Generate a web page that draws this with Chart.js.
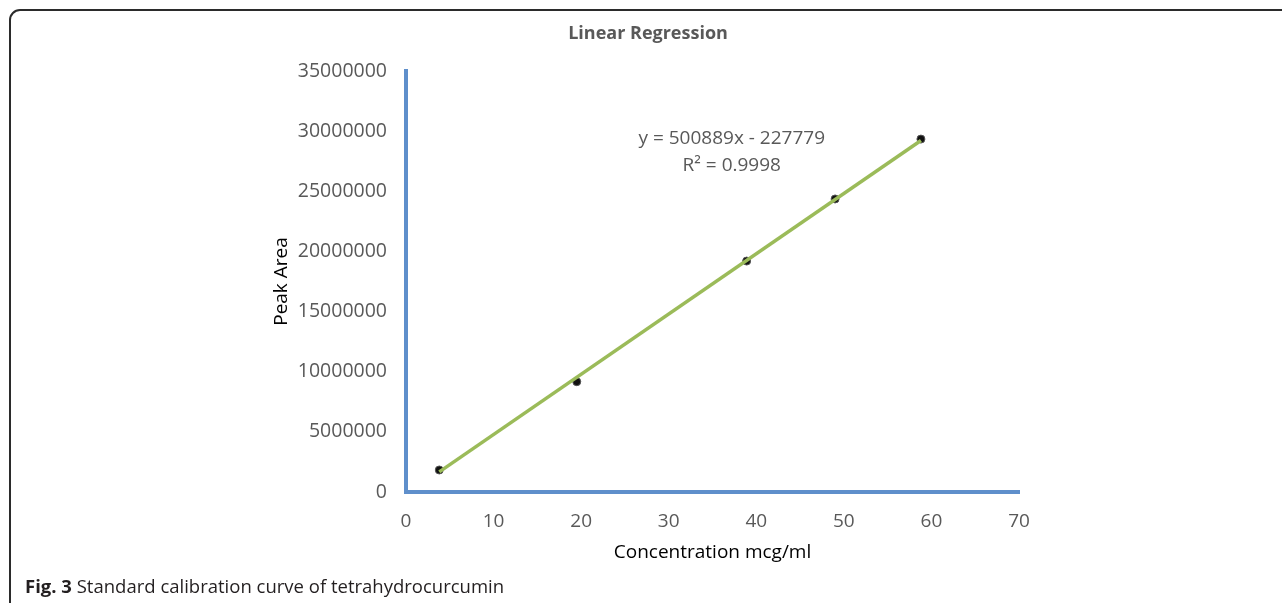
<!DOCTYPE html>
<html>
<head>
<meta charset="utf-8">
<script src="https://cdn.jsdelivr.net/npm/chart.js@4"></script>
<style>
    html, body { margin: 0; padding: 0; background: #fff; overflow: hidden; }
    #wrap { position: relative; width: 1282px; height: 603px; }
    #frame {
        position: absolute; left: 9px; top: 9px; width: 1320px; height: 640px;
        border: 2px solid #2b2b2b; border-radius: 11px; box-sizing: border-box;
    }
    #chart { position: absolute; left: 0; top: 0; }
    #caption {
        position: absolute; left: 25px; top: 573px;
        font-family: "Open Sans", sans-serif; font-size: 18.5px; color: #231f20;
    }
</style>
</head>
<body>
<div id="wrap">
    <div id="frame"></div>
    <canvas id="chart" width="1282" height="603"></canvas>
    <div id="caption"><b>Fig. 3</b> Standard calibration curve of tetrahydrocurcumin</div>
</div>
<script>
        // calibration data
        const concentrations = [3.8, 19.5, 38.9, 49.0, 58.8];
        const peakAreas = [1830000, 9170000, 19200000, 24360000, 29340000];

        // trendline as reported on the chart
        const slope = 500889;
        const intercept = -227779;
        const rSquared = '0.9998';

        const xTicks = [0, 10, 20, 30, 40, 50, 60, 70];
        const yTicks = [0, 5000000, 10000000, 15000000, 20000000, 25000000, 30000000, 35000000];

        const textGray = '#595959';
        const axisBlue = '#5f8fcb';
        const fontFamily = '"Open Sans", sans-serif';

        const points = concentrations.map((x, i) => ({ x: x, y: peakAreas[i] }));
        const xFirst = concentrations[0];
        const xLast = concentrations[concentrations.length - 1];
        const trendPoints = [
            { x: xFirst, y: slope * xFirst + intercept },
            { x: xLast, y: slope * xLast + intercept }
        ];

        // title and equation text
        const labelsPlugin = {
            id: 'labels',
            afterDraw(chart) {
                const ctx = chart.ctx;
                const xs = chart.scales.x;
                const ys = chart.scales.y;
                ctx.save();
                ctx.fillStyle = textGray;
                ctx.textAlign = 'center';
                ctx.textBaseline = 'middle';
                ctx.font = 'bold 18px ' + fontFamily;
                ctx.fillText('Linear Regression', 648, 34);

                ctx.font = '19px ' + fontFamily;
                const cx = xs.getPixelForValue(37.2);
                const cy = ys.getPixelForValue(29400000);
                ctx.fillText('y = ' + slope + 'x - ' + Math.abs(intercept), cx, cy);
                ctx.fillText('R\u00B2 = ' + rSquared, cx, cy + 27);
                ctx.restore();
            }
        };

        const chartCtx = document.getElementById('chart').getContext('2d');
        const calibrationChart = new Chart(chartCtx, {
            type: 'scatter',
            data: {
                datasets: [
                    {
                        label: 'Trendline',
                        data: trendPoints,
                        showLine: true,
                        borderColor: '#9bbb59',
                        borderWidth: 3.5,
                        pointRadius: 0,
                        order: 0
                    },
                    {
                        label: 'Peak Area',
                        data: points,
                        backgroundColor: '#111111',
                        borderColor: '#555555',
                        borderWidth: 1,
                        pointRadius: 4,
                        order: 1
                    }
                ]
            },
            options: {
                responsive: false,
                animation: false,
                layout: {
                    padding: { left: 262, right: 263, top: 71, bottom: 31 }
                },
                plugins: {
                    legend: { display: false },
                    tooltip: { enabled: false }
                },
                scales: {
                    x: {
                        type: 'linear',
                        min: 0,
                        max: 70,
                        afterBuildTicks: (scale) => { scale.ticks = xTicks.map(v => ({ value: v })); },
                        afterFit: (scale) => { scale.height = 80; },
                        grid: { display: false, drawTicks: false },
                        border: { color: axisBlue, width: 4 },
                        ticks: {
                            color: textGray,
                            font: { family: fontFamily, size: 19 },
                            padding: 18
                        },
                        title: {
                            display: true,
                            text: 'Concentration mcg/ml',
                            color: '#000',
                            font: { family: fontFamily, size: 19 },
                            padding: { top: 0, bottom: 8 }
                        }
                    },
                    y: {
                        type: 'linear',
                        min: 0,
                        max: 35000000,
                        afterBuildTicks: (scale) => { scale.ticks = yTicks.map(v => ({ value: v })); },
                        afterFit: (scale) => { scale.width = 144; },
                        grid: { display: false, drawTicks: false },
                        border: { color: axisBlue, width: 4 },
                        ticks: {
                            color: textGray,
                            font: { family: fontFamily, size: 19.5 },
                            padding: 19,
                            callback: (value) => String(value)
                        },
                        title: {
                            display: true,
                            text: 'Peak Area',
                            color: '#000',
                            font: { family: fontFamily, size: 19 },
                            padding: { top: 8, bottom: 0 }
                        }
                    }
                }
            },
            plugins: [labelsPlugin]
        });
</script>
</body>
</html>
